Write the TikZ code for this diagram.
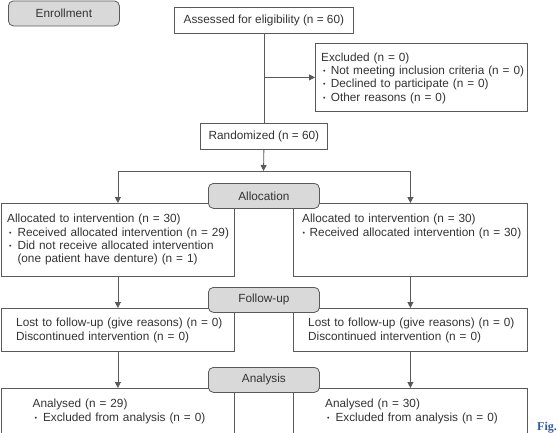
\documentclass[tikz,border=0pt]{standalone}
\usepackage{fontspec}
\usepackage{graphicx}
\setmainfont{Liberation Sans}
\newfontfamily\capfont{Liberation Serif}
\usetikzlibrary{arrows.meta}
\definecolor{linegray}{HTML}{5A5A5A}
\definecolor{textgray}{HTML}{333333}
\definecolor{stagefill}{HTML}{D9D9D9}
\definecolor{figblue}{HTML}{2B5BA6}
% small list bullet: #1 = indent before the dot, #2 = room taken by the dot
\newcommand{\itemdot}[2]{\hspace*{#1}\makebox[#2][l]{\raisebox{0.07em}{\scalebox{0.6}{•}}}}

\begin{document}
\begin{tikzpicture}[x=1pt,y=-1pt,
  every node/.style={font=\fontsize{11.8}{13.4}\selectfont, text=textgray},
  box/.style={draw=linegray, line width=0.8pt, anchor=north west, inner sep=0pt, fill=white},
  stage/.style={draw=linegray, line width=0.8pt, fill=stagefill, rounded corners=5pt,
    anchor=north west, inner sep=0pt, minimum width=111pt, minimum height=25pt},
  txt/.style={anchor=base west, inner sep=0pt, align=left},
  link/.style={draw=linegray, line width=0.8pt},
  arrow/.style={link, -{Triangle[length=6pt,width=6pt]}}
]
\useasboundingbox (0,0) rectangle (558,432);

% enrollment and randomisation
\node[box, minimum width=179pt, minimum height=26pt] (assess) at (174,7) {Assessed for eligibility (n = 60)};
\node[box, minimum width=212pt, minimum height=68pt] (excl) at (315,43) {};
\node[txt, text width=205pt] (excltxt) at (321,61)
  {Excluded (n = 0)\\
   \itemdot{2pt}{7.7pt}Not meeting inclusion criteria (n = 0)\\
   \itemdot{2pt}{7.7pt}Declined to participate (n = 0)\\
   \itemdot{2pt}{7.7pt}Other reasons (n = 0)};
\node[box, minimum width=127pt, minimum height=26pt] (rand) at (200,123) {Randomized (n = 60)};

% allocation
\node[box, minimum width=233pt, minimum height=73pt] (allocL) at (1,203) {};
\node[txt, text width=225pt] (allocLtxt) at (7,222.7)
  {Allocated to intervention (n = 30)\\
   \itemdot{2pt}{8.3pt}Received allocated intervention (n = 29)\\
   \itemdot{2pt}{8.3pt}Did not receive allocated intervention\\
   \hspace*{10.3pt}(one patient have denture) (n = 1)};
\node[box, minimum width=234pt, minimum height=73pt] (allocR) at (293,203) {};
\node[txt, text width=225pt] (allocRtxt) at (302,222.7)
  {Allocated to intervention (n = 30)\\
   \itemdot{0.5pt}{7pt}Received allocated intervention (n = 30)};

% follow-up
\node[box, minimum width=233pt, minimum height=43pt] (fuL) at (1,308) {};
\node[txt, text width=215pt] (fuLtxt) at (16,326.7)
  {Lost to follow-up (give reasons) (n = 0)\\
   Discontinued intervention (n = 0)};
\node[box, minimum width=234pt, minimum height=43pt] (fuR) at (293,308) {};
\node[txt, text width=215pt] (fuRtxt) at (308,326.7)
  {Lost to follow-up (give reasons) (n = 0)\\
   Discontinued intervention (n = 0)};

% analysis
\node[box, minimum width=233pt, minimum height=50pt] (anL) at (1,388) {};
\node[txt, text width=200pt] (anLtxt) at (32.5,407.7)
  {Analysed (n = 29)\\
   \itemdot{2pt}{8.3pt}Excluded from analysis (n = 0)};
\node[box, minimum width=234pt, minimum height=50pt] (anR) at (293,388) {};
\node[txt, text width=200pt] (anRtxt) at (325,407.7)
  {Analysed (n = 30)\\
   \itemdot{2pt}{8.3pt}Excluded from analysis (n = 0)};

% connectors
\draw[link] (assess.south) -- (rand.north);
\coordinate (exclj) at (assess.south |- excl.west);
\draw[arrow] (exclj) -- (excl.west);
\coordinate (split) at (263.5,171);
\coordinate (splitL) at (allocL.north |- split);
\coordinate (splitR) at (allocR.north |- split);
\draw[arrow] (rand.south) -- (split);
\draw[link] (splitL) -- (splitR);
\draw[arrow] (splitL) -- (allocL.north);
\draw[arrow] (splitR) -- (allocR.north);
\draw[arrow] (allocL.south) -- (fuL.north);
\draw[arrow] (allocR.south) -- (fuR.north);
\draw[arrow] (fuL.south) -- (anL.north);
\draw[arrow] (fuR.south) -- (anR.north);

% stage labels
\node[stage] (enrol) at (8,0.5) {Enrollment};
\node[stage] (allocst) at (208,183) {Allocation};
\node[stage] (fust) at (208,287) {Follow-up};
\node[stage] (anst) at (208,367) {Analysis};

% caption fragment
\node[anchor=base west, inner sep=0pt, text=figblue, font=\capfont\bfseries\fontsize{12}{14}\selectfont] (fig) at (537,430) {Fig.};
\end{tikzpicture}
\end{document}
